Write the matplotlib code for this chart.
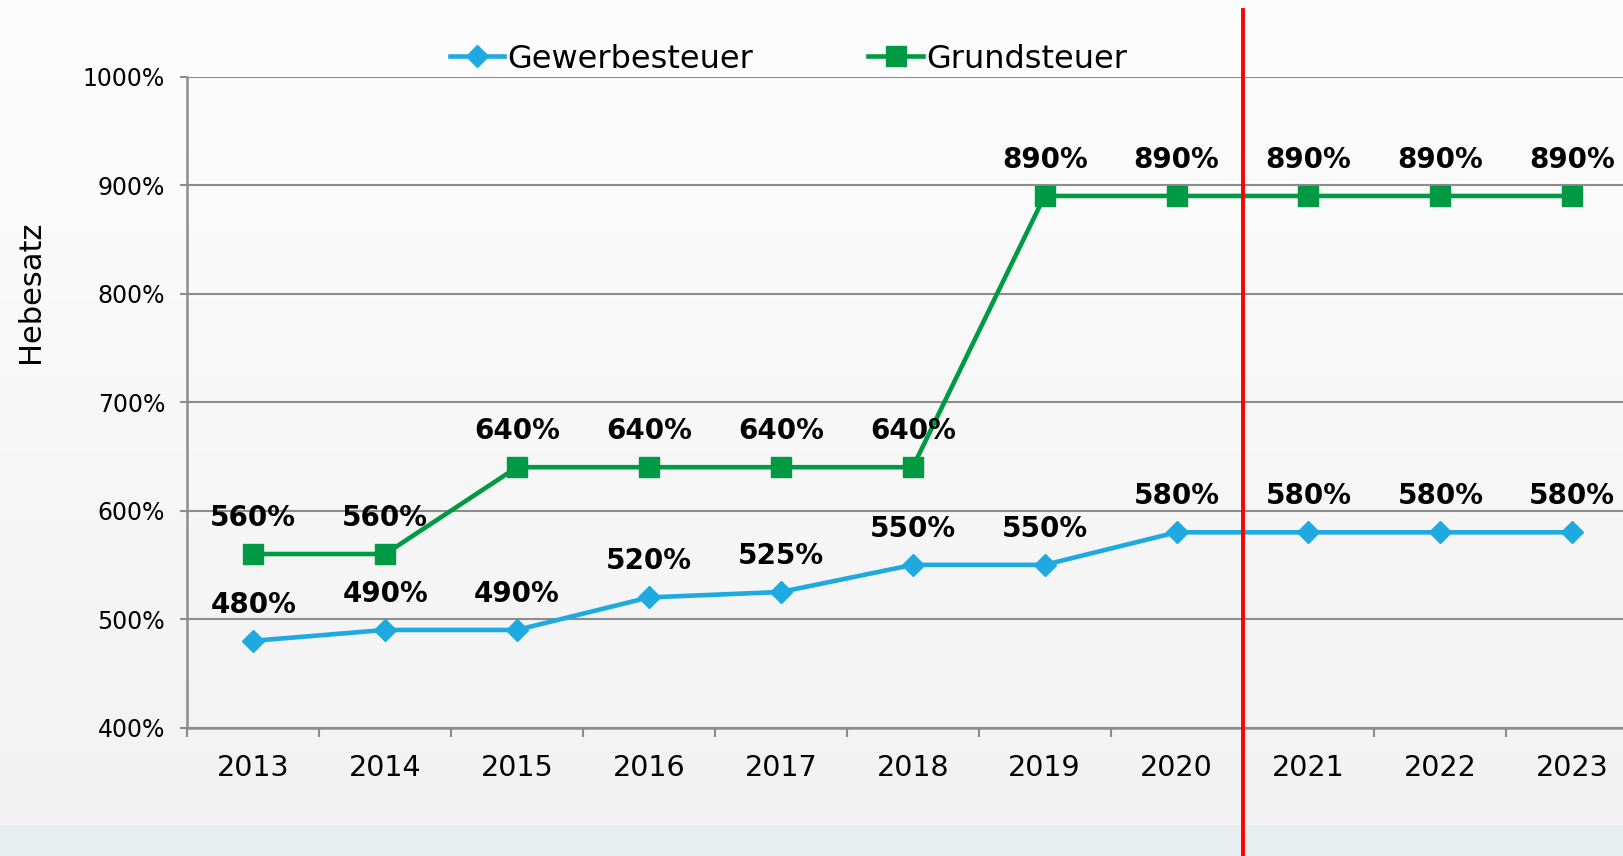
import numpy as np
import matplotlib
matplotlib.use("Agg")
import matplotlib.pyplot as plt
from matplotlib.lines import Line2D
from matplotlib.transforms import blended_transform_factory

years = ["2013", "2014", "2015", "2016", "2017", "2018", "2019", "2020", "2021", "2022", "2023"]
gewerbesteuer = [480, 490, 490, 520, 525, 550, 550, 580, 580, 580, 580]
grundsteuer = [560, 560, 640, 640, 640, 640, 890, 890, 890, 890, 890]
y_ticks = [400, 500, 600, 700, 800, 900, 1000]
series_names = ["Gewerbesteuer", "Grundsteuer"]
y_label = "Hebesatz"
divider_after = "2020"

W, H = 1623, 856
fig = plt.figure(figsize=(W / 100, H / 100), dpi=100)

# background gradient
bg = fig.add_axes([0, 0, 1, 1], zorder=-10)
rows = H
img = np.zeros((rows, 2, 3))
band_start = 825
top_c = np.array([253, 253, 253]) / 255
bot_c = np.array([242, 242, 242]) / 255
band_c = np.array([232, 237, 240]) / 255
for i in range(rows):
    if i < band_start:
        t = i / band_start
        img[i, :] = top_c * (1 - t) + bot_c * t
    else:
        img[i, :] = band_c
bg.imshow(img, aspect="auto", extent=[0, 1, 0, 1], origin="upper", interpolation="nearest")
bg.set_xlim(0, 1)
bg.set_ylim(0, 1)
bg.set_axis_off()

left_px, top_px, bottom_px, cat_px = 187.3, 76.6, 727.6, 131.9
ax = fig.add_axes([left_px / W, (H - bottom_px) / H, 1 - left_px / W, (bottom_px - top_px) / H])
ax.set_facecolor("none")

x = np.arange(len(years))
blue = "#1fa9e1"
green = "#009a44"
ax.plot(x, gewerbesteuer, color=blue, lw=3.3, marker="D", markersize=11.5,
        label=series_names[0], zorder=4, clip_on=False)
ax.plot(x, grundsteuer, color=green, lw=3.3, marker="s", markersize=14,
        label=series_names[1], zorder=4, clip_on=False)

for xi, v in zip(x, gewerbesteuer):
    ax.annotate(f"{v}%", (xi, v), xytext=(0, 26), textcoords="offset points",
                ha="center", va="center", fontsize=20, fontweight="bold", zorder=6,
                annotation_clip=False)
for xi, v in zip(x, grundsteuer):
    ax.annotate(f"{v}%", (xi, v), xytext=(0, 26), textcoords="offset points",
                ha="center", va="center", fontsize=20, fontweight="bold", zorder=6,
                annotation_clip=False)

ax.set_xlim(-0.5, -0.5 + (W - left_px) / cat_px)
ax.set_ylim(400, 1000)
ax.set_yticks(y_ticks)
ax.set_yticklabels([f"{v}%" for v in y_ticks])
ax.set_xticks(x)
ax.set_xticklabels(years)
ax.set_xticks(np.arange(len(years)) - 0.5, minor=True)

grid_c = "#8c8c8c"
ax.grid(axis="y", color=grid_c, lw=1.5, zorder=1)
ax.set_axisbelow(True)
for s in ["top", "right"]:
    ax.spines[s].set_visible(False)
for s in ["left", "bottom"]:
    ax.spines[s].set_color(grid_c)
    ax.spines[s].set_linewidth(1.8)

ax.tick_params(axis="y", length=5, width=1.5, color=grid_c, labelsize=17, pad=11)
ax.tick_params(axis="x", which="major", length=0, labelsize=20.5, pad=19)
ax.tick_params(axis="x", which="minor", length=6.5, width=1.5, color=grid_c)

ax.set_ylabel(y_label, fontsize=22)
ax.yaxis.set_label_coords((31 - left_px) / (W - left_px), (bottom_px - 292) / (bottom_px - top_px))
ax.yaxis.label.set_va("center")

# red divider line between 2020 and 2021
xd = years.index(divider_after) + 0.5
trans = blended_transform_factory(ax.transData, fig.transFigure)
fig.add_artist(Line2D([xd, xd], [0, 1 - 10 / H], transform=trans, color="#ff0000", lw=2.8, zorder=8))

leg = fig.legend(loc="center left", bbox_to_anchor=(450 / W, 1 - 59 / H), ncol=2, frameon=False,
                 fontsize=23, handlelength=1.7, handletextpad=0.1, columnspacing=3.6,
                 borderpad=0, borderaxespad=0)

fig.savefig("out.png", dpi=100)
